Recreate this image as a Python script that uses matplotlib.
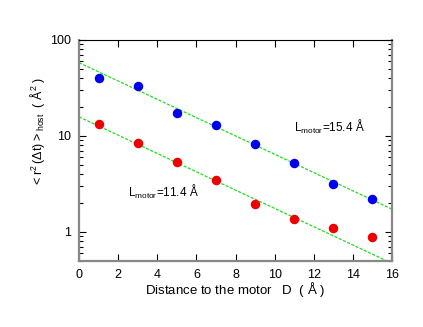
import numpy as np
import matplotlib
matplotlib.use("Agg")
import matplotlib.pyplot as plt
from matplotlib.ticker import LogLocator, NullFormatter, FixedLocator

plt.rcParams['font.family'] = ['Liberation Sans', 'DejaVu Sans']

distance = [1, 3, 5, 7, 9, 11, 13, 15]
msd_154 = [40.0, 33.2, 17.4, 13.0, 8.26, 5.27, 3.18, 2.19]
msd_114 = [13.4, 8.5, 5.36, 3.46, 1.96, 1.36, 1.09, 0.89]
fit_amp = [58.0, 15.8]
fit_decay = [4.55, 4.55]
xticks = [0, 2, 4, 6, 8, 10, 12, 14, 16]

fig = plt.figure(figsize=(4.23, 3.27), dpi=100)
ax = fig.add_axes([0.1868, 0.2028, 0.7399, 0.6749])

xf = np.linspace(0, 16, 200)
for A, lam in zip(fit_amp, fit_decay):
    ax.plot(xf, A * np.exp(-xf / lam), color='#22dd22', lw=0.9,
            dashes=(2.5, 1.2), zorder=2)

ax.scatter(distance, msd_154, s=34, color='#0000ee', edgecolors='#0000ee', zorder=3)
ax.scatter(distance, msd_114, s=34, color='#ee0000', edgecolors='#ee0000', zorder=3)

ax.set_yscale('log')
ax.set_xlim(0, 16)
ax.set_ylim(0.5, 100)
ax.xaxis.set_major_locator(FixedLocator(xticks))
ax.set_xticklabels([str(t) for t in xticks])
ax.yaxis.set_major_locator(FixedLocator([1, 10, 100]))
ax.set_yticklabels(['1', '10', '100'])
ax.yaxis.set_minor_locator(LogLocator(base=10, subs=np.arange(2, 10)))
ax.yaxis.set_minor_formatter(NullFormatter())

ax.tick_params(which='both', direction='in', top=True, right=True,
               labelsize=9, colors='black', pad=6)
ax.tick_params(which='major', length=5, width=0.8)
ax.tick_params(which='minor', length=3, width=0.8)

for side in ['left', 'right', 'bottom']:
    ax.spines[side].set_color('#888888')
    ax.spines[side].set_linewidth(1.6)
ax.spines['top'].set_color('black')
ax.spines['top'].set_linewidth(0.8)

ax.set_xlabel(r'Distance to the motor   D  ( $\mathregular{\AA}$ )', fontsize=9.5)
ax.xaxis.set_label_coords(0.5, -0.086)
ax.set_ylabel(r'$\mathregular{< r^2\,(\Delta t) >_{host}}$  ( $\mathregular{\AA^2}$ )',
              fontsize=9, va='center')
ax.yaxis.set_label_coords(-0.134, 0.584)

ax.text(11.0, 10.0, r'$\mathregular{L_{motor}}$=15.4 Å', fontsize=8.5, va='bottom')
ax.text(2.5, 2.6, r'$\mathregular{L_{motor}}$=11.4 Å', fontsize=8.5, va='center')

fig.savefig('out.png', dpi=100)
